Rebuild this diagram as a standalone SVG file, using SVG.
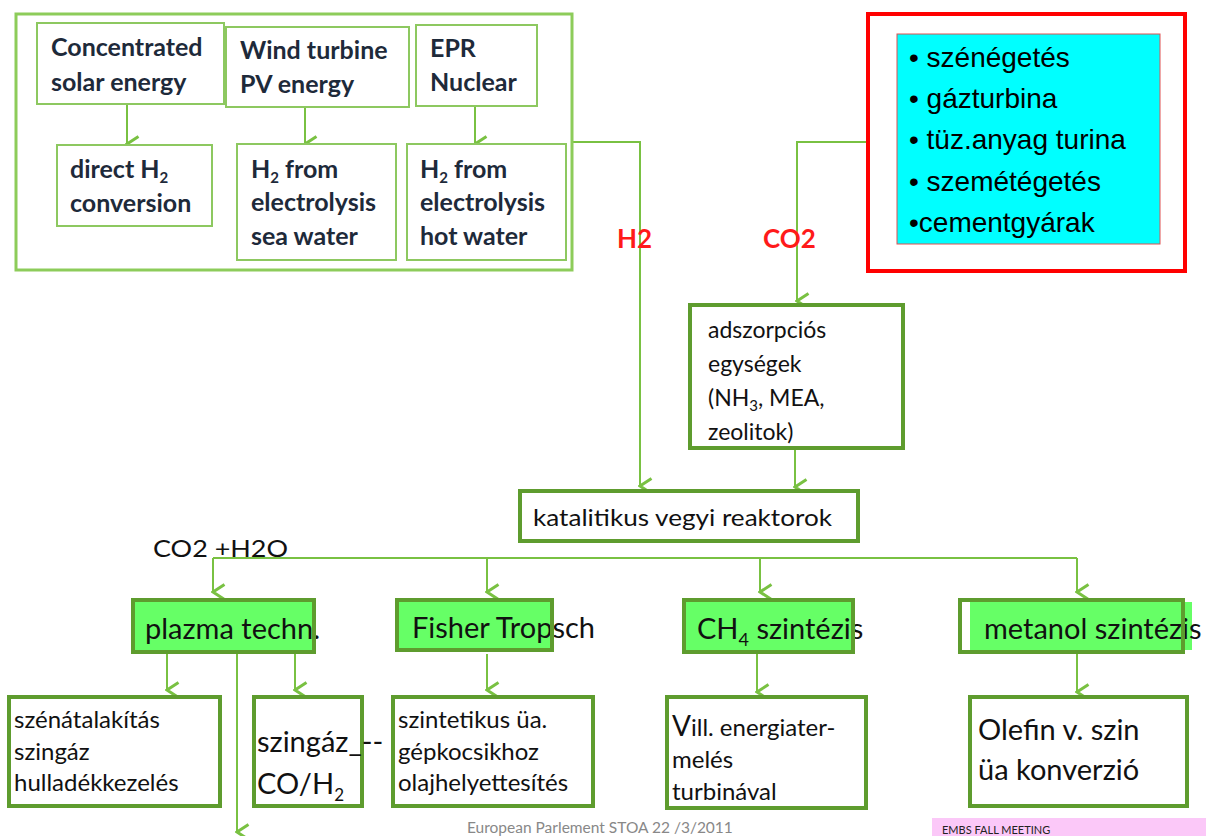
<svg xmlns="http://www.w3.org/2000/svg" width="1206" height="836" viewBox="0 0 1206 836">
<defs>
<marker id="ah" markerWidth="20" markerHeight="16" refX="10" refY="13.5" orient="auto-start-reverse" markerUnits="userSpaceOnUse" viewBox="0 0 20 16">
<path d="M2.5,2 L10,13.5 L17.5,2" fill="none" stroke="#79c142" stroke-width="3"/>
</marker>
<style>
.top{fill:#fff;stroke:#8dc860;stroke-width:2}
.box{fill:#fff;stroke:#5e9c2e;stroke-width:4}
.gfill{fill:#66ff66}
.gstroke{fill:none;stroke:#5e9c2e;stroke-width:4}
.ln{fill:none;stroke:#79c142;stroke-width:2}
.tb{font-family:Lato,"Open Sans",sans-serif;font-weight:bold;font-size:25px;fill:#1e2a3a}
.tr{font-family:Lato,"Open Sans",sans-serif;font-size:23px;fill:#111}
.ts{font-family:Lato,"Open Sans",sans-serif;font-size:24px;fill:#111}
.tl{font-family:Lato,"Open Sans",sans-serif;font-size:29px;fill:#111}
.red{font-family:Lato,"Open Sans",sans-serif;font-weight:bold;font-size:26px;fill:#ff1a1a}
.bul{font-family:"Liberation Sans",Arial,sans-serif;font-size:28px;fill:#000}
</style>
</defs>
<rect width="1206" height="836" fill="#fff"/>

<g id="connectors">
<path class="ln" d="M127,104 V144" marker-end="url(#ah)"/>
<path class="ln" d="M305,107 V144" marker-end="url(#ah)"/>
<path class="ln" d="M475,106 V144" marker-end="url(#ah)"/>
<path class="ln" d="M572,142 H640 V486" marker-end="url(#ah)"/>
<path class="ln" d="M867,142 H797 V301" marker-end="url(#ah)"/>
<path class="ln" d="M795,449 V487" marker-end="url(#ah)"/>
<path class="ln" d="M213,558 H1077"/>
<path class="ln" d="M213,558 V592" marker-end="url(#ah)"/>
<path class="ln" d="M487,558 V592" marker-end="url(#ah)"/>
<path class="ln" d="M760,558 V592" marker-end="url(#ah)"/>
<path class="ln" d="M1077,558 V592" marker-end="url(#ah)"/>
<path class="ln" d="M167,654 V690" marker-end="url(#ah)"/>
<path class="ln" d="M295,654 V690" marker-end="url(#ah)"/>
<path class="ln" d="M237,654 V832" marker-end="url(#ah)"/>
<path class="ln" d="M487,654 V690" marker-end="url(#ah)"/>
<path class="ln" d="M757,654 V692" marker-end="url(#ah)"/>
<path class="ln" d="M1077,654 V692" marker-end="url(#ah)"/>
</g>

<g id="sources">
<rect x="16" y="14" width="556" height="256" fill="none" stroke="#8dcc5a" stroke-width="3"/>
</g>
<g id="solar">
<rect class="top" x="37" y="23" width="187" height="81"/>
<text class="tb" x="51" y="56">Concentrated</text>
<text class="tb" x="51" y="91">solar energy</text>
</g>
<g id="wind">
<rect class="top" x="226" y="27" width="183" height="80"/>
<text class="tb" x="240" y="59">Wind turbine</text>
<text class="tb" x="240" y="93">PV energy</text>
</g>
<g id="epr">
<rect class="top" x="416" y="25" width="121" height="81"/>
<text class="tb" x="430" y="57">EPR</text>
<text class="tb" x="430" y="91">Nuclear</text>
</g>
<g id="direct">
<rect class="top" x="57" y="145" width="155" height="81"/>
<text class="tb" x="70" y="178">direct H<tspan font-size="15" dy="5">2</tspan></text>
<text class="tb" x="70" y="212">conversion</text>
</g>
<g id="sea">
<rect class="top" x="237" y="144" width="159" height="116"/>
<text class="tb" x="251" y="178">H<tspan font-size="15" dy="5">2</tspan><tspan dy="-5"> from</tspan></text>
<text class="tb" x="251" y="211">electrolysis</text>
<text class="tb" x="251" y="245">sea water</text>
</g>
<g id="hot">
<rect class="top" x="407" y="144" width="159" height="116"/>
<text class="tb" x="420" y="178">H<tspan font-size="15" dy="5">2</tspan><tspan dy="-5"> from</tspan></text>
<text class="tb" x="420" y="211">electrolysis</text>
<text class="tb" x="420" y="245">hot water</text>
</g>

<g id="labels">
<text class="red" x="617" y="248">H2</text>
<text class="red" x="763" y="248">CO2</text>
<text class="tr" x="153" y="557" font-size="26" textLength="135" lengthAdjust="spacingAndGlyphs">CO2 +H2O</text>
</g>

<g id="emitters">
<rect x="868" y="14" width="317" height="257" fill="none" stroke="#ff0000" stroke-width="4"/>
<rect x="897" y="34" width="263" height="210" fill="#00ffff" stroke="#e05050" stroke-width="1"/>
<text class="bul" x="909" y="67">• szénégetés</text>
<text class="bul" x="909" y="108">• gázturbina</text>
<text class="bul" x="909" y="149">• tüz.anyag turina</text>
<text class="bul" x="909" y="191">• szemétégetés</text>
<text class="bul" x="909" y="232">•cementgyárak</text>
</g>

<g id="adszorpcio">
<rect class="box" x="690" y="305" width="213" height="143"/>
<text class="tr" x="708" y="338">adszorpciós</text>
<text class="tr" x="708" y="372">egységek</text>
<text class="tr" x="708" y="406">(NH<tspan font-size="15" dy="5">3</tspan><tspan dy="-5">, MEA,</tspan></text>
<text class="tr" x="708" y="440">zeolitok)</text>
</g>

<g id="katalitikus">
<rect class="box" x="520" y="491" width="338" height="50"/>
<text class="tr" x="533" y="526" font-size="27" textLength="299" lengthAdjust="spacingAndGlyphs">katalitikus vegyi reaktorok</text>
</g>

<g id="plazma">
<rect class="gfill" x="133" y="600" width="181" height="52"/>
<text class="tl" x="145" y="639">plazma techn.</text>
<rect class="gstroke" x="133" y="600" width="181" height="52"/>
</g>
<g id="fisher">
<rect class="gfill" x="397" y="600" width="155" height="50"/>
<text class="tl" x="412" y="638">Fisher Tropsch</text>
<rect class="gstroke" x="397" y="600" width="155" height="50"/>
</g>
<g id="ch4">
<rect class="gfill" x="684" y="600" width="169" height="52"/>
<text class="tl" x="697" y="639">CH<tspan font-size="18" dy="7">4</tspan><tspan dy="-7"> szintézis</tspan></text>
<rect class="gstroke" x="684" y="600" width="169" height="52"/>
</g>
<g id="metanol">
<rect class="gfill" x="962" y="602" width="230" height="48"/>
<rect x="962" y="602" width="8" height="48" fill="#fff"/>
<text class="tl" x="984" y="639">metanol szintézis</text>
<rect class="gstroke" x="960" y="600" width="223" height="52"/>
</g>

<g id="szenatalakitas">
<rect class="box" x="9" y="697" width="211" height="109"/>
<text class="ts" x="14" y="728">szénátalakítás</text>
<text class="ts" x="14" y="760">szingáz</text>
<text class="ts" x="14" y="791">hulladékkezelés</text>
</g>
<g id="szingaz">
<rect class="box" x="254" y="697" width="108" height="109"/>
<text class="tl" x="257" y="752" font-size="26">szingáz_--</text>
<text class="tl" x="257" y="794" font-size="26">CO/H<tspan font-size="17" dy="7">2</tspan></text>
</g>
<g id="szintetikus">
<rect class="box" x="393" y="697" width="200" height="109"/>
<text class="ts" x="398" y="728" font-size="25.5">szintetikus üa.</text>
<text class="ts" x="398" y="760" font-size="25.5">gépkocsikhoz</text>
<text class="ts" x="398" y="791" font-size="25.5">olajhelyettesítés</text>
</g>
<g id="vill">
<rect class="box" x="667" y="697" width="199" height="111"/>
<text class="ts" x="672" y="736" font-size="23.5"><tspan font-size="28">V</tspan>ill. energiater-</text>
<text class="ts" x="672" y="768" font-size="23.5">melés</text>
<text class="ts" x="672" y="800" font-size="23.5">turbinával</text>
</g>
<g id="olefin">
<rect class="box" x="970" y="697" width="217" height="109"/>
<text class="tl" x="978" y="740">Olefin v. szin</text>
<text class="tl" x="978" y="780">üa konverzió</text>
</g>

<g id="footer">
<text x="467" y="833" font-family="Lato,'Open Sans',sans-serif" font-size="15.5" fill="#888">European Parlement STOA 22 /3/2011</text>
<rect x="932" y="818" width="274" height="18" fill="#fbc8f8"/>
<text x="942" y="834" font-family="Lato,'Open Sans',sans-serif" font-size="11" fill="#222">EMBS FALL MEETING</text>
</g>
</svg>
